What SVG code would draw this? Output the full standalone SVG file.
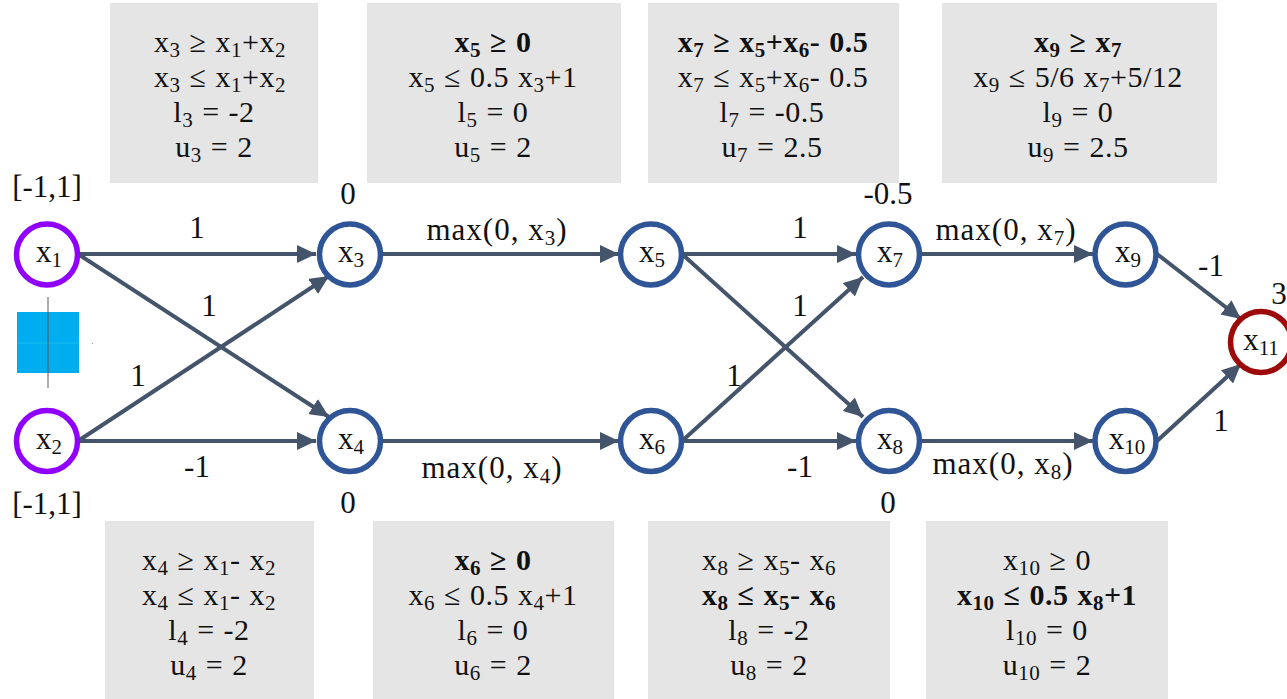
<svg xmlns="http://www.w3.org/2000/svg" width="1287" height="699" viewBox="0 0 1287 699">
<style>
text{font-family:"Liberation Serif","DejaVu Serif",serif;font-size:31px;fill:#111;text-anchor:middle}
#box-text text{font-size:30px;letter-spacing:.5px;word-spacing:1px}
.m{letter-spacing:1px}
.b{font-weight:bold}
.s{font-size:21px;baseline-shift:-5px}
.box{fill:#e5e5e5}
.ln{fill:none;stroke:#44546a;stroke-width:4;marker-end:url(#a)}
.in{fill:#fff;stroke:#9000ff;stroke-width:5.5}
.hid{fill:#fff;stroke:#2f5597;stroke-width:5.5}
.out{fill:#fff;stroke:#9c0a0a;stroke-width:5.5}
</style>
<defs><marker id="a" markerUnits="userSpaceOnUse" markerWidth="20" markerHeight="18" refX="19" refY="9" orient="auto"><path d="M0 0L19 9L0 18z" fill="#44546a"/></marker></defs>
<g id="boxes">
<rect class="box" x="110" y="3" width="208" height="180"/>
<rect class="box" x="367" y="3" width="254" height="180"/>
<rect class="box" x="648" y="3" width="251" height="180"/>
<rect class="box" x="942" y="3" width="275" height="180"/>
<rect class="box" x="105" y="521" width="209" height="178"/>
<rect class="box" x="373" y="521" width="241" height="178"/>
<rect class="box" x="648" y="521" width="242" height="178"/>
<rect class="box" x="926" y="521" width="242" height="178"/>
</g>
<g id="box-text">
<text x="220" y="52">x<tspan class="s">3</tspan> ≥ x<tspan class="s">1</tspan>+x<tspan class="s">2</tspan></text>
<text x="220" y="87">x<tspan class="s">3</tspan> ≤ x<tspan class="s">1</tspan>+x<tspan class="s">2</tspan></text>
<text x="214" y="122">l<tspan class="s">3</tspan> = -2</text>
<text x="214" y="157">u<tspan class="s">3</tspan> = 2</text>
<text class="b" x="493" y="52">x<tspan class="s">5</tspan> ≥ 0</text>
<text x="493" y="87">x<tspan class="s">5</tspan> ≤ 0.5 x<tspan class="s">3</tspan>+1</text>
<text x="493" y="122">l<tspan class="s">5</tspan> = 0</text>
<text x="493" y="157">u<tspan class="s">5</tspan> = 2</text>
<text class="b" x="773" y="52">x<tspan class="s">7</tspan> ≥ x<tspan class="s">5</tspan>+x<tspan class="s">6</tspan>- 0.5</text>
<text x="773" y="87">x<tspan class="s">7</tspan> ≤ x<tspan class="s">5</tspan>+x<tspan class="s">6</tspan>- 0.5</text>
<text x="772" y="122">l<tspan class="s">7</tspan> = -0.5</text>
<text x="772" y="157">u<tspan class="s">7</tspan> = 2.5</text>
<text class="b" x="1078" y="52">x<tspan class="s">9</tspan> ≥ x<tspan class="s">7</tspan></text>
<text x="1078" y="87">x<tspan class="s">9</tspan> ≤ 5/6 x<tspan class="s">7</tspan>+5/12</text>
<text x="1078" y="122">l<tspan class="s">9</tspan> = 0</text>
<text x="1078" y="157">u<tspan class="s">9</tspan> = 2.5</text>
<text x="209" y="570">x<tspan class="s">4</tspan> ≥ x<tspan class="s">1</tspan>- x<tspan class="s">2</tspan></text>
<text x="209" y="605">x<tspan class="s">4</tspan> ≤ x<tspan class="s">1</tspan>- x<tspan class="s">2</tspan></text>
<text x="209" y="640">l<tspan class="s">4</tspan> = -2</text>
<text x="209" y="675">u<tspan class="s">4</tspan> = 2</text>
<text class="b" x="493" y="570">x<tspan class="s">6</tspan> ≥ 0</text>
<text x="493" y="605">x<tspan class="s">6</tspan> ≤ 0.5 x<tspan class="s">4</tspan>+1</text>
<text x="493" y="640">l<tspan class="s">6</tspan> = 0</text>
<text x="493" y="675">u<tspan class="s">6</tspan> = 2</text>
<text x="769" y="570">x<tspan class="s">8</tspan> ≥ x<tspan class="s">5</tspan>- x<tspan class="s">6</tspan></text>
<text class="b" x="769" y="605">x<tspan class="s">8</tspan> ≤ x<tspan class="s">5</tspan>- x<tspan class="s">6</tspan></text>
<text x="769" y="640">l<tspan class="s">8</tspan> = -2</text>
<text x="769" y="675">u<tspan class="s">8</tspan> = 2</text>
<text x="1047" y="570">x<tspan class="s">10</tspan> ≥ 0</text>
<text class="b" x="1047" y="605">x<tspan class="s">10</tspan> ≤ 0.5 x<tspan class="s">8</tspan>+1</text>
<text x="1047" y="640">l<tspan class="s">10</tspan> = 0</text>
<text x="1047" y="675">u<tspan class="s">10</tspan> = 2</text>
</g>
<g id="image-icon">
<rect x="17" y="312" width="62" height="61" fill="#00aeef"/>
<path d="M17 343H79" stroke="#19b9f5" stroke-width="1"/>
<path d="M48 297V388" stroke="#555" stroke-opacity=".65" stroke-width="1.500"/>
<rect x="92" y="343" width="1" height="1" fill="#999"/>
</g>
<g id="connectors">
<path class="ln" d="M78 254H316"/>
<path class="ln" d="M78 254L329 417"/>
<path class="ln" d="M78 441L329 276"/>
<path class="ln" d="M78 441H316"/>
<path class="ln" d="M381 254H619"/>
<path class="ln" d="M381 441H619"/>
<path class="ln" d="M682 254H856"/>
<path class="ln" d="M682 254L863 417"/>
<path class="ln" d="M682 441L863 277"/>
<path class="ln" d="M682 441H856"/>
<path class="ln" d="M920 254H1093"/>
<path class="ln" d="M920 441H1093"/>
<path class="ln" d="M1157 254L1241 319"/>
<path class="ln" d="M1157 441L1241 364"/>
</g>
<g id="edge-labels">
<text x="197" y="238">1</text>
<text x="209" y="316">1</text>
<text x="138" y="386">1</text>
<text x="197" y="477">-1</text>
<text class="m" x="497" y="240">max(0, x<tspan class="s">3</tspan>)</text>
<text class="m" x="492" y="478">max(0, x<tspan class="s">4</tspan>)</text>
<text x="800" y="238">1</text>
<text x="800" y="316">1</text>
<text x="734" y="386">1</text>
<text x="800" y="477">-1</text>
<text class="m" x="1006" y="240">max(0, x<tspan class="s">7</tspan>)</text>
<text class="m" x="1003" y="474">max(0, x<tspan class="s">8</tspan>)</text>
<text x="1211" y="276">-1</text>
<text x="1221" y="431">1</text>
<text x="47" y="197">[-1,1]</text>
<text x="47" y="514">[-1,1]</text>
<text x="348" y="204">0</text>
<text x="348" y="513">0</text>
<text x="888" y="204">-0.5</text>
<text x="888" y="513">0</text>
<text x="1279" y="304">3</text>
</g>
<g id="n1"><circle class="in" cx="47" cy="254.500" r="30.500"/><text x="49" y="262">x<tspan class="s">1</tspan></text></g>
<g id="n2"><circle class="in" cx="47" cy="441" r="30.500"/><text x="49" y="449">x<tspan class="s">2</tspan></text></g>
<g id="n3"><circle class="hid" cx="350" cy="254.500" r="30.500"/><text x="351" y="262">x<tspan class="s">3</tspan></text></g>
<g id="n4"><circle class="hid" cx="350" cy="441" r="30.500"/><text x="351" y="449">x<tspan class="s">4</tspan></text></g>
<g id="n5"><circle class="hid" cx="651" cy="254.500" r="30.500"/><text x="652" y="262">x<tspan class="s">5</tspan></text></g>
<g id="n6"><circle class="hid" cx="651" cy="441" r="30.500"/><text x="652" y="449">x<tspan class="s">6</tspan></text></g>
<g id="n7"><circle class="hid" cx="889" cy="254.500" r="30.500"/><text x="890" y="262">x<tspan class="s">7</tspan></text></g>
<g id="n8"><circle class="hid" cx="889" cy="441" r="30.500"/><text x="890" y="449">x<tspan class="s">8</tspan></text></g>
<g id="n9"><circle class="hid" cx="1125.500" cy="254.500" r="30.500"/><text x="1128" y="262">x<tspan class="s">9</tspan></text></g>
<g id="n10"><circle class="hid" cx="1125.500" cy="441" r="30.500"/><text x="1127" y="449">x<tspan class="s">10</tspan></text></g>
<g id="n11"><circle class="out" cx="1261" cy="342" r="30.500"/><text x="1261" y="350">x<tspan class="s">11</tspan></text></g>
</svg>
